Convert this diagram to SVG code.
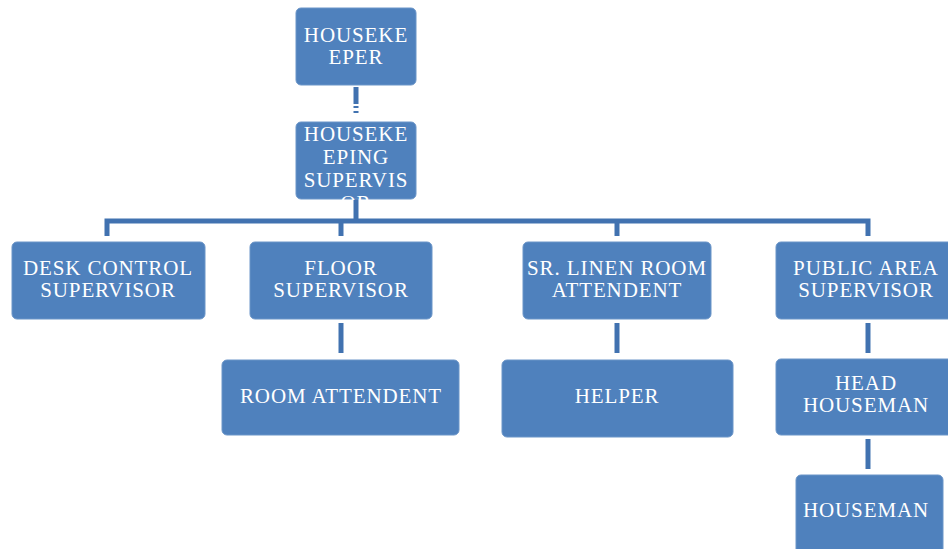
<svg xmlns="http://www.w3.org/2000/svg" width="948" height="549" viewBox="0 0 948 549">
  <style>
    .box { fill: #4F81BD; stroke: #6B95C8; stroke-width: 1; }
    .lbl { fill: #FFFFFF; font-family: "Liberation Serif", "Times New Roman", serif; font-size: 21px; letter-spacing: 0.9px; text-anchor: middle; }
    .link { stroke: #4172B0; stroke-width: 5; fill: none; }
  </style>
  <defs>
    <clipPath id="clip-sup">
      <rect x="296" y="122" width="120" height="78"/>
    </clipPath>
  </defs>
  <rect width="948" height="549" fill="#FFFFFF"/>

  <!-- connectors -->
  <g id="connectors">
    <path class="link" d="M356 87 V104" />
    <path class="link" d="M356 106 V116" stroke-width="2" stroke-dasharray="2 3"/>
    <path class="link" d="M356 199 V221"/>
    <path class="link" d="M107 236 V221 H868 V236"/>
    <path class="link" d="M341 221 V236"/>
    <path class="link" d="M617 221 V236"/>
    <path class="link" d="M341 323 V353"/>
    <path class="link" d="M617 323 V353"/>
    <path class="link" d="M868 323 V353"/>
    <path class="link" d="M868 439 V469"/>
  </g>

  <g id="housekeeper">
    <rect class="box" x="296" y="8" width="120" height="77" rx="5"/>
    <text class="lbl" x="356" y="42">HOUSEKE</text>
    <text class="lbl" x="356" y="64">EPER</text>
  </g>

  <g id="housekeeping-supervisor">
    <rect class="box" x="296" y="122" width="120" height="77" rx="5"/>
    <g clip-path="url(#clip-sup)">
      <text class="lbl" x="356" y="141">HOUSEKE</text>
      <text class="lbl" x="356" y="164">EPING</text>
      <text class="lbl" x="356" y="187">SUPERVIS</text>
      <text class="lbl" x="356" y="210">OR</text>
    </g>
  </g>

  <g id="desk-control-supervisor">
    <rect class="box" x="12" y="242" width="193" height="77" rx="5"/>
    <text class="lbl" x="108" y="275">DESK CONTROL</text>
    <text class="lbl" x="108" y="297">SUPERVISOR</text>
  </g>

  <g id="floor-supervisor">
    <rect class="box" x="250" y="242" width="182" height="77" rx="5"/>
    <text class="lbl" x="341" y="275">FLOOR</text>
    <text class="lbl" x="341" y="297">SUPERVISOR</text>
  </g>

  <g id="linen-room-attendant">
    <rect class="box" x="523" y="242" width="188" height="77" rx="5"/>
    <text class="lbl" x="617" y="275">SR. LINEN ROOM</text>
    <text class="lbl" x="617" y="297">ATTENDENT</text>
  </g>

  <g id="public-area-supervisor">
    <rect class="box" x="776" y="242" width="180" height="77" rx="5"/>
    <text class="lbl" x="866" y="275">PUBLIC AREA</text>
    <text class="lbl" x="866" y="297">SUPERVISOR</text>
  </g>

  <g id="room-attendent">
    <rect class="box" x="222" y="360" width="237" height="75" rx="5"/>
    <text class="lbl" x="341" y="403">ROOM ATTENDENT</text>
  </g>

  <g id="helper">
    <rect class="box" x="502" y="360" width="231" height="77" rx="5"/>
    <text class="lbl" x="617" y="403">HELPER</text>
  </g>

  <g id="head-houseman">
    <rect class="box" x="776" y="359" width="180" height="76" rx="5"/>
    <text class="lbl" x="866" y="390">HEAD</text>
    <text class="lbl" x="866" y="412">HOUSEMAN</text>
  </g>

  <g id="houseman">
    <rect class="box" x="796" y="475" width="147" height="85" rx="5"/>
    <text class="lbl" x="866" y="517">HOUSEMAN</text>
  </g>
</svg>
